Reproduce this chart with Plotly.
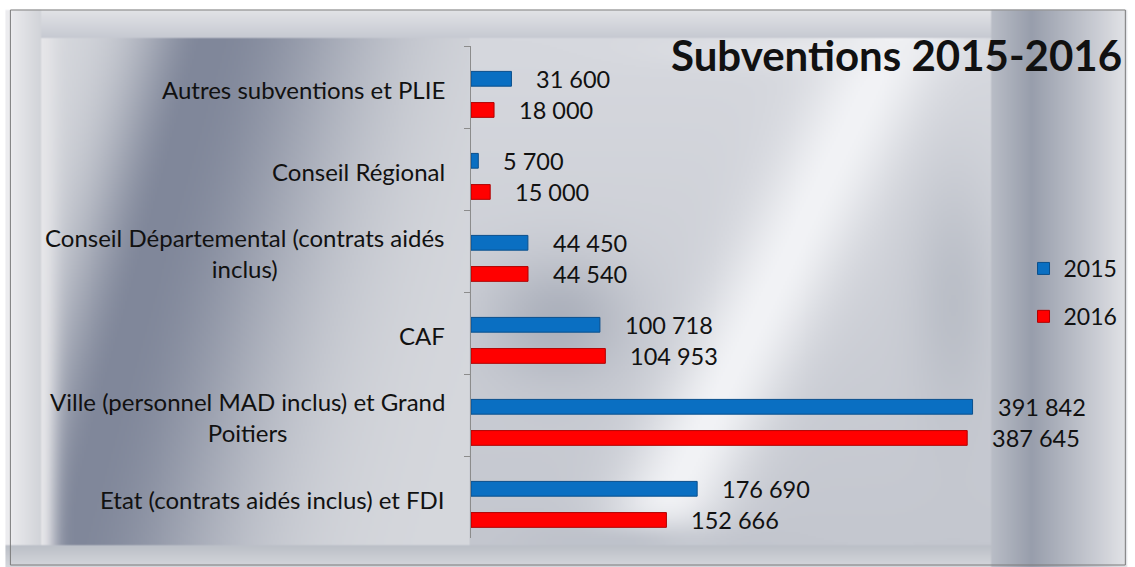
import base64, struct, zlib
import numpy as np
import plotly.graph_objects as go

categories = [
    "Autres subventions et PLIE",
    "Conseil Régional",
    "Conseil Départemental (contrats aidés<br>inclus)",
    "CAF",
    "Ville (personnel MAD inclus) et Grand<br>Poitiers",
    "Etat (contrats aidés inclus) et FDI",
]
values_2015 = [31600, 5700, 44450, 100718, 391842, 176690]
values_2016 = [18000, 15000, 44540, 104953, 387645, 152666]
series_names = ["2015", "2016"]

FONT = "Lato, Calibri, 'Liberation Sans', sans-serif"
W, H = 1135, 567
L, R, T, B = 471, 989, 46, 538


def px(x):
    return (x - L) / (R - L)


def py(y):
    return (B - y) / (B - T)


def fmt(v):
    return f"{v:,}".replace(",", " ")


# ---------- metallic background (pure styling) ----------
def mix(c1, c2, t):
    t = np.clip(t, 0, 1)[..., None]
    return np.array(c1, float) * (1 - t) + np.array(c2, float) * t


def make_background():
    s = 2
    xs = np.arange(0, W, s) + 0.5 * s
    ys = np.arange(0, H, s) + 0.5 * s
    X, Y = np.meshgrid(xs, ys)
    img = np.zeros(X.shape + (3,))
    img[:] = (200, 203, 210)
    top = Y < 39
    img[top] = mix((226, 227, 231), (198, 201, 209), (Y - 10) / 29)[top]
    left = X < 36
    img[left] = mix((236, 236, 239), (210, 212, 217), (X - 5) / 31)[left]
    right = X >= 998
    u = (X - 998) / 137
    rc = np.where((u < 0.3)[..., None], mix((186, 190, 199), (152, 158, 172), u / 0.3),
                  mix((152, 158, 172), (226, 227, 231), (u - 0.3) / 0.7))
    img[right] = rc[right]
    bot = Y >= 547
    img[bot & ~right] = mix((188, 192, 200), (212, 214, 219), (Y - 547) / 20)[bot & ~right]
    # left inner panel
    lp = (X >= 36) & (X < 471) & (Y >= 39) & (Y < 547)
    c = 205 - 0.28 * (Y - 39)
    dx = X - c
    dark = np.where(dx < 0, np.exp(-(dx / 75) ** 2), np.exp(-(dx / 165) ** 2))
    col = mix((214, 216, 221), (128, 135, 154), dark)
    edge = np.exp(-((X - 36) / 16) ** 2)
    col = mix(col, (230, 230, 233), edge)
    img[lp] = col[lp]
    # plot area
    pa = (X >= 471) & (X < 998) & (Y >= 39) & (Y < 547)
    base = mix((214, 216, 222), (196, 199, 207), (Y - 39) / 508)
    x0, y0, x1, y1 = 900, 38, 650, 548
    nx, ny = (y1 - y0), -(x1 - x0)
    nrm = np.hypot(nx, ny)
    d = ((X - x0) * nx + (Y - y0) * ny) / nrm
    base = mix(base, (242, 243, 246), np.exp(-(d / 55) ** 2))
    base = mix(base, (165, 170, 182), 0.8 * np.exp(-(((X - 560) / 70) ** 2 + ((Y - 320) / 60) ** 2)))
    base = mix(base, (170, 175, 186), 0.7 * np.exp(-(((X - 640) / 90) ** 2 + ((Y - 545) / 25) ** 2)))
    base = mix(base, (175, 180, 190), 0.6 * np.exp(-(((X - 960) / 40) ** 2 + ((Y - 300) / 120) ** 2)))
    base = mix(base, (236, 237, 240), 0.7 * np.exp(-(((X - 830) / 140) ** 2 + ((Y - 50) / 18) ** 2)))
    img[pa] = base[pa]
    img[Y < 10] = (255, 255, 255)
    arr = np.clip(img, 0, 255).astype(np.uint8)
    h, w, _ = arr.shape
    raw = b"".join(b"\x00" + arr[i].tobytes() for i in range(h))

    def chunk(tag, data):
        return struct.pack(">I", len(data)) + tag + data + struct.pack(">I", zlib.crc32(tag + data) & 0xFFFFFFFF)

    png = (b"\x89PNG\r\n\x1a\n" + chunk(b"IHDR", struct.pack(">IIBBBBB", w, h, 8, 2, 0, 0, 0))
           + chunk(b"IDAT", zlib.compress(raw, 9)) + chunk(b"IEND", b""))
    return "data:image/png;base64," + base64.b64encode(png).decode()


bg_uri = make_background()

fig = go.Figure()
fig.add_trace(go.Bar(
    y=categories, x=values_2015, orientation="h", name=series_names[0],
    marker=dict(color="#0a6fc2", line=dict(color="#0a4f8c", width=1)),
    width=0.18, offset=-0.19, legendgroup="a", hoverinfo="skip",
))
fig.add_trace(go.Bar(
    y=categories, x=values_2016, orientation="h", name=series_names[1],
    marker=dict(color="#ff0000", line=dict(color="#b00000", width=1)),
    width=0.18, offset=0.19, legendgroup="b", hoverinfo="skip",
))

annotations = []
for c, v1, v2 in zip(categories, values_2015, values_2016):
    annotations.append(dict(x=v1, y=c, xref="x", yref="y", text=fmt(v1), showarrow=False,
                            xanchor="left", yanchor="middle", xshift=23, yshift=8,
                            font=dict(family=FONT, size=23.5, color="#111")))
    annotations.append(dict(x=v2, y=c, xref="x", yref="y", text=fmt(v2), showarrow=False,
                            xanchor="left", yanchor="middle", xshift=23, yshift=-23,
                            font=dict(family=FONT, size=23.5, color="#111")))
    annotations.append(dict(x=px(447), y=c, xref="paper", yref="y", text=c, showarrow=False,
                            xanchor="right", yanchor="middle", align="center", yshift=-2,
                            font=dict(family=FONT, size=24, color="#111")))

annotations.append(dict(x=px(1132), y=py(55), xref="paper", yref="paper",
                        text="<b>Subventions 2015-2016</b>", showarrow=False,
                        xanchor="right", yanchor="middle",
                        font=dict(family=FONT, size=42, color="#111")))

shapes = [
    dict(type="rect", xref="paper", yref="paper", x0=px(5), x1=px(1133), y0=py(565), y1=py(10),
         fillcolor="rgba(0,0,0,0)", line=dict(color="#7a7a7a", width=1), layer="below"),
]

images = [dict(source=bg_uri, xref="paper", yref="paper", x=px(0), y=py(0),
               sizex=px(W) - px(0), sizey=py(0) - py(H), sizing="stretch",
               xanchor="left", yanchor="top", layer="below")]

fig.update_layout(
    width=W, height=H,
    margin=dict(l=L, r=W - R, t=T, b=H - B, pad=0),
    paper_bgcolor="white", plot_bgcolor="rgba(0,0,0,0)",
    barmode="overlay",
    font=dict(family=FONT, size=23, color="#111"),
    showlegend=True,
    legend=dict(x=px(1030), y=py(247), xanchor="left", yanchor="top",
                bgcolor="rgba(0,0,0,0)", font=dict(family=FONT, size=23),
                traceorder="grouped", tracegroupgap=15, itemwidth=30),
    annotations=annotations,
    shapes=shapes,
    images=images,
)
fig.update_xaxes(range=[0, 400000], showgrid=False, showticklabels=False, zeroline=False,
                 showline=False, ticks="")
fig.update_yaxes(autorange="reversed", showticklabels=False, showgrid=False,
                 showline=True, linecolor="#8c8c8c", linewidth=1,
                 ticks="outside", ticklen=6, tickcolor="#8c8c8c", tickson="boundaries")

fig.write_html("out.html", config={"displayModeBar": False},
               post_script="document.body.style.margin='0';document.body.style.overflow='hidden';")
